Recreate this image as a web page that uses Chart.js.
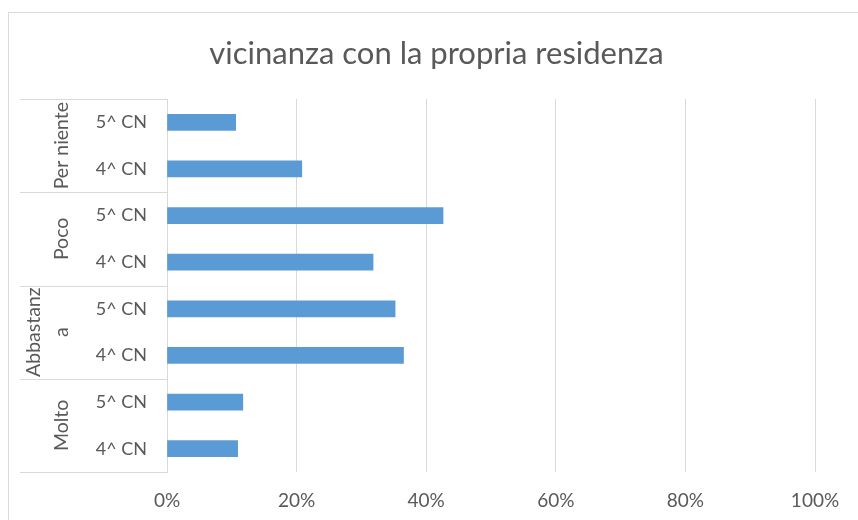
<!DOCTYPE html>
<html lang="it">
<head>
    <meta charset="UTF-8">
    <title>vicinanza con la propria residenza</title>
    <script src="https://cdn.jsdelivr.net/npm/chart.js"></script>
    <style>
        html, body { margin: 0; padding: 0; background: #fff; overflow: hidden; }
        #wrap { position: relative; width: 858px; height: 520px; }
        #frame { position: absolute; left: 8px; top: 12px; width: 900px; height: 600px;
                 border: 1px solid #d9d9d9; box-sizing: border-box; pointer-events: none; }
    </style>
</head>
<body>
    <div id="wrap">
        <div id="frame"></div>
        <canvas id="chart"></canvas>
    </div>
    <script>
        // dati
        const chartTitle = 'vicinanza con la propria residenza';
        const groupNames = ['Per niente', 'Poco', 'Abbastanza', 'Molto'];
        const groupLines = [['Per niente'], ['Poco'], ['Abbastanz', 'a'], ['Molto']]; // a capo come nell'originale
        const classes = ['5^ CN', '4^ CN'];
        const values = [10.6, 20.8, 42.6, 31.8, 35.2, 36.5, 11.7, 10.9]; // %
        const xTickMax = 100;
        const xTickStep = 20;

        const labels = [];
        groupNames.forEach(() => classes.forEach(c => labels.push(c)));

        const textColor = '#595959';
        const lineColor = '#d9d9d9';
        const fontFamily = 'Lato, "Open Sans", sans-serif';

        // etichette di gruppo ruotate e separatori a sinistra
        const groupPlugin = {
            id: 'groupLabels',
            afterDraw(chart) {
                const ctx = chart.ctx;
                const y = chart.scales.y;
                const area = chart.chartArea;
                const per = classes.length;
                ctx.save();
                ctx.strokeStyle = lineColor;
                ctx.lineWidth = 1;
                const bounds = [area.top];
                for (let g = 1; g < groupNames.length; g++) {
                    bounds.push((y.getPixelForValue(g * per - 1) + y.getPixelForValue(g * per)) / 2);
                }
                bounds.push(area.bottom);
                bounds.forEach(b => {
                    const yy = Math.round(b) + 0.5;
                    ctx.beginPath();
                    ctx.moveTo(20, yy);
                    ctx.lineTo(area.left, yy);
                    ctx.stroke();
                });
                ctx.fillStyle = textColor;
                ctx.font = '19.5px ' + fontFamily;
                ctx.textAlign = 'center';
                ctx.textBaseline = 'middle';
                groupLines.forEach((lines, g) => {
                    const cy = (bounds[g] + bounds[g + 1]) / 2;
                    lines.forEach((txt, i) => {
                        const cx = 62 - (lines.length - 1 - i) * 28;
                        ctx.save();
                        ctx.translate(cx, cy);
                        ctx.rotate(-Math.PI / 2);
                        ctx.fillText(txt, 0, 0);
                        ctx.restore();
                    });
                });
                ctx.restore();
            }
        };

        const ctx = document.getElementById('chart').getContext('2d');
        new Chart(ctx, {
            type: 'bar',
            data: {
                labels: labels,
                datasets: [{
                    data: values,
                    backgroundColor: '#5b9bd5',
                    barThickness: 16
                }]
            },
            plugins: [groupPlugin],
            options: {
                indexAxis: 'y',
                responsive: true,
                maintainAspectRatio: false,
                animation: false,
                layout: { padding: { left: 15, right: 0, top: 0, bottom: 0 } },
                plugins: {
                    legend: { display: false },
                    tooltip: { enabled: false },
                    title: {
                        display: true,
                        text: chartTitle,
                        color: textColor,
                        font: { family: fontFamily, size: 31, weight: 'normal' },
                        padding: { top: 35, bottom: 26.8 }
                    }
                },
                scales: {
                    x: {
                        min: 0,
                        max: xTickMax,
                        ticks: {
                            stepSize: xTickStep,
                            color: textColor,
                            font: { family: fontFamily, size: 19 },
                            padding: 17,
                            callback: v => v + '%'
                        },
                        grid: { color: lineColor, drawTicks: false },
                        border: { display: false },
                        afterFit: s => { s.height = 48; }
                    },
                    y: {
                        ticks: {
                            color: textColor,
                            font: { family: fontFamily, size: 18 },
                            padding: 20
                        },
                        grid: { display: false, drawTicks: false },
                        border: { display: true, color: lineColor },
                        afterFit: s => { s.width = 152; }
                    },
                    // spazio vuoto a destra dell'area del grafico
                    yRight: {
                        type: 'linear',
                        position: 'right',
                        display: true,
                        ticks: { display: false },
                        grid: { display: false, drawTicks: false },
                        border: { display: false },
                        afterFit: s => { s.width = 43; }
                    }
                }
            }
        });
    </script>
</body>
</html>
